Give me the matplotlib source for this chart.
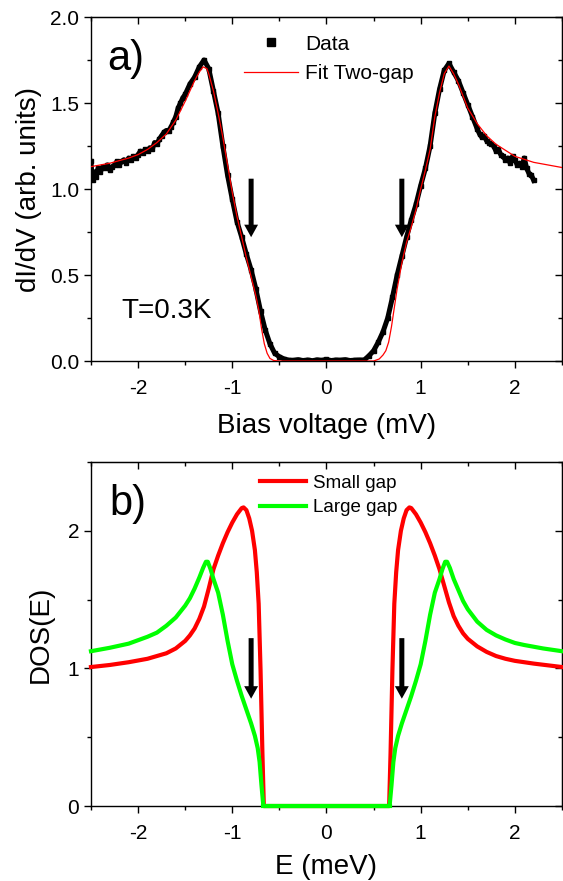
import numpy as np
import matplotlib
matplotlib.use('Agg')
import matplotlib.pyplot as plt
from matplotlib.ticker import MultipleLocator, FormatStrFormatter

plt.rcParams['font.family'] = ['Liberation Sans', 'DejaVu Sans']
plt.rcParams['axes.unicode_minus'] = False

# panel a) measured dI/dV
bias = [-2.500, -2.490, -2.475, -2.460, -2.450, -2.425, -2.400, -2.375, -2.350, -2.325,
        -2.300, -2.275, -2.250, -2.225, -2.200, -2.175, -2.150, -2.125, -2.100, -2.075,
        -2.050, -2.025, -2.000, -1.975, -1.950, -1.925, -1.900, -1.875, -1.850, -1.825,
        -1.800, -1.775, -1.750, -1.725, -1.700, -1.675, -1.650, -1.625, -1.600, -1.575,
        -1.550, -1.525, -1.500, -1.45, -1.40, -1.35, -1.30, -1.25, -1.20, -1.15,
        -1.10, -1.05, -1.00, -0.95, -0.90, -0.85, -0.80, -0.75, -0.70, -0.65,
        -0.60, -0.55, -0.50, -0.45, -0.40, -0.35, -0.30, -0.25, -0.20, -0.15,
        -0.10, -0.05, 0.00, 0.05, 0.10, 0.15, 0.20, 0.25, 0.30, 0.35,
        0.40, 0.45, 0.50, 0.55, 0.60, 0.65, 0.70, 0.75, 0.80, 0.85,
        0.90, 0.95, 1.00, 1.05, 1.10, 1.15, 1.20, 1.25, 1.30, 1.35,
        1.40, 1.45, 1.50, 1.55, 1.600, 1.625, 1.650, 1.675, 1.700, 1.725,
        1.750, 1.775, 1.800, 1.825, 1.850, 1.875, 1.900, 1.925, 1.950, 1.975,
        2.000, 2.025, 2.050, 2.075, 2.100, 2.125, 2.150, 2.175, 2.200]
didv = [1.16, 1.08, 1.05, 1.10, 1.07, 1.12, 1.10, 1.13, 1.12, 1.14,
        1.11, 1.13, 1.14, 1.16, 1.14, 1.16, 1.17, 1.15, 1.18, 1.17,
        1.19, 1.18, 1.20, 1.22, 1.21, 1.23, 1.22, 1.24, 1.23, 1.27,
        1.26, 1.29, 1.31, 1.33, 1.34, 1.34, 1.36, 1.39, 1.42, 1.47,
        1.50, 1.53, 1.55, 1.61, 1.65, 1.71, 1.75, 1.70, 1.57, 1.44,
        1.25, 1.08, 0.94, 0.81, 0.72, 0.62, 0.53, 0.42, 0.29, 0.18,
        0.10, 0.045, 0.025, 0.012, 0.005, 0.004, 0.008, 0.003, 0.006, 0.002,
        0.007, 0.004, 0.009, 0.003, 0.006, 0.005, 0.008, 0.003, 0.005, 0.006,
        0.006, 0.03, 0.06, 0.11, 0.17, 0.25, 0.37, 0.50, 0.61, 0.72,
        0.82, 0.91, 1.02, 1.12, 1.25, 1.44, 1.58, 1.69, 1.73, 1.68,
        1.63, 1.56, 1.49, 1.42, 1.35, 1.32, 1.30, 1.31, 1.28, 1.27,
        1.26, 1.25, 1.22, 1.23, 1.20, 1.19, 1.17, 1.18, 1.15, 1.19,
        1.17, 1.14, 1.15, 1.13, 1.18, 1.12, 1.09, 1.08, 1.05]

# panel a) two-gap fit
fit_v = [-2.5, -2.4, -2.3, -2.2, -2.1, -2.0, -1.9, -1.8, -1.7, -1.6, -1.5, -1.45,
         -1.4, -1.35, -1.31, -1.27, -1.25, -1.2, -1.15, -1.1, -1.05, -1.0, -0.95,
         -0.9, -0.85, -0.8, -0.75, -0.72, -0.69, -0.66, -0.63, -0.6, -0.56, -0.5,
         0.5, 0.56, 0.6, 0.63, 0.66, 0.69, 0.72, 0.75, 0.8, 0.85, 0.9, 0.95,
         1.0, 1.05, 1.1, 1.15, 1.2, 1.25, 1.3, 1.35, 1.4, 1.45, 1.5, 1.6,
         1.7, 1.8, 1.9, 2.0, 2.2, 2.5]
fit_g = [1.13, 1.14, 1.15, 1.165, 1.18, 1.20, 1.23, 1.27, 1.32, 1.40, 1.51, 1.57,
         1.63, 1.68, 1.71, 1.70, 1.67, 1.57, 1.44, 1.30, 1.14, 0.98, 0.84,
         0.72, 0.60, 0.49, 0.38, 0.30, 0.19, 0.10, 0.045, 0.015, 0.003, 0.0,
         0.0, 0.012, 0.035, 0.06, 0.11, 0.20, 0.31, 0.42, 0.57, 0.69, 0.78, 0.88,
         1.00, 1.11, 1.23, 1.42, 1.56, 1.67, 1.715, 1.67, 1.61, 1.54, 1.47, 1.38,
         1.31, 1.26, 1.225, 1.19, 1.155, 1.125]

# panel b) DOS of the two gaps
small_e = [-2.5, -2.3, -2.1, -1.9, -1.7, -1.6, -1.5, -1.45, -1.4, -1.35, -1.3, -1.25,
           -1.2, -1.15, -1.1, -1.05, -1.0, -0.95, -0.9, -0.88, -0.85, -0.82, -0.79,
           -0.76, -0.74, -0.72, -0.70, -0.68, -0.665,
           0.665, 0.68, 0.70, 0.72, 0.74, 0.76, 0.79, 0.82, 0.85, 0.88, 0.9, 0.95,
           1.0, 1.05, 1.1, 1.15, 1.2, 1.25, 1.3, 1.35, 1.4, 1.45, 1.5, 1.6,
           1.7, 1.8, 1.9, 2.0, 2.2, 2.5]
small_dos = [1.01, 1.025, 1.045, 1.07, 1.11, 1.145, 1.20, 1.24, 1.29, 1.36, 1.45, 1.58,
             1.72, 1.82, 1.91, 1.99, 2.06, 2.12, 2.165, 2.17, 2.15, 2.09, 2.0,
             1.86, 1.70, 1.47, 0.99, 0.38, 0.0,
             0.0, 0.38, 0.99, 1.47, 1.70, 1.86, 2.0, 2.09, 2.15, 2.17, 2.165, 2.12,
             2.06, 1.99, 1.91, 1.82, 1.72, 1.60, 1.48, 1.38, 1.31, 1.255, 1.215, 1.16,
             1.12, 1.09, 1.07, 1.055, 1.035, 1.01]
large_e = [-2.5, -2.3, -2.1, -1.9, -1.8, -1.7, -1.6, -1.5, -1.45, -1.4, -1.35, -1.31,
           -1.28, -1.26, -1.23, -1.2, -1.15, -1.1, -1.05, -1.0, -0.95, -0.9, -0.85,
           -0.8, -0.76, -0.73, -0.71, -0.69, -0.67,
           0.67, 0.69, 0.71, 0.73, 0.76, 0.8, 0.85, 0.9, 0.95, 1.0, 1.05, 1.1,
           1.15, 1.2, 1.23, 1.26, 1.28, 1.31, 1.35, 1.4, 1.45, 1.5, 1.6, 1.7,
           1.8, 1.9, 2.0, 2.1, 2.3, 2.5]
large_dos = [1.125, 1.15, 1.18, 1.23, 1.26, 1.31, 1.37, 1.456, 1.51, 1.58, 1.66, 1.73,
             1.775, 1.775, 1.72, 1.65, 1.55, 1.39, 1.20, 1.03, 0.91, 0.80, 0.70,
             0.60, 0.51, 0.42, 0.32, 0.15, 0.0,
             0.0, 0.15, 0.32, 0.42, 0.51, 0.60, 0.70, 0.80, 0.91, 1.03, 1.20, 1.39,
             1.55, 1.65, 1.72, 1.775, 1.775, 1.73, 1.65, 1.57, 1.49, 1.43, 1.34, 1.28,
             1.24, 1.21, 1.185, 1.17, 1.145, 1.125]
zero_e = [-0.67, 0.67]
zero_dos = [0.0, 0.0]

arrow_x = [-0.8, 0.8]

fig = plt.figure(figsize=(5.63, 8.81), dpi=100)
ax1 = fig.add_axes([0.1616, 0.5902, 0.8366, 0.3905])
ax2 = fig.add_axes([0.1616, 0.0851, 0.8366, 0.3905])


def style_axes(ax, ymajor, yminor):
    ax.set_xlim(-2.5, 2.5)
    ax.xaxis.set_major_locator(MultipleLocator(1))
    ax.xaxis.set_minor_locator(MultipleLocator(0.5))
    ax.yaxis.set_major_locator(MultipleLocator(ymajor))
    ax.yaxis.set_minor_locator(MultipleLocator(yminor))
    ax.tick_params(which='both', direction='out', width=1, labelsize=15)
    ax.tick_params(which='major', length=5)
    ax.tick_params(which='minor', length=3)
    ax.tick_params(axis='x', pad=8)
    for sp in ax.spines.values():
        sp.set_linewidth(1)
    top = ax.secondary_xaxis('top')
    top.xaxis.set_major_locator(MultipleLocator(1))
    top.xaxis.set_minor_locator(MultipleLocator(0.5))
    top.tick_params(which='both', direction='in', labeltop=False, width=1)
    top.tick_params(which='major', length=5)
    top.tick_params(which='minor', length=3)
    right = ax.secondary_yaxis('right')
    right.yaxis.set_major_locator(MultipleLocator(ymajor))
    right.yaxis.set_minor_locator(MultipleLocator(yminor))
    right.tick_params(which='both', direction='in', labelright=False, width=1)
    right.tick_params(which='major', length=5)
    right.tick_params(which='minor', length=3)


# ---- panel a
ax1.plot(bias, didv, '-', color='black', lw=3.6, zorder=2)
ax1.plot(bias, didv, 's', color='black', ms=3.5, zorder=2, label='Data')
ax1.plot(fit_v, fit_g, '-', color='red', lw=0.9, zorder=3, label='Fit Two-gap')
ax1.set_ylim(0, 2.0)
style_axes(ax1, 0.5, 0.25)
ax1.yaxis.set_major_formatter(FormatStrFormatter('%.1f'))
ax1.set_xlabel('Bias voltage (mV)', fontsize=20, labelpad=11)
ax1.set_ylabel('dI/dV (arb. units)', fontsize=20, labelpad=6)
ax1.text(0.035, 0.935, 'a)', transform=ax1.transAxes, fontsize=30, va='top')
ax1.text(0.065, 0.125, 'T=0.3K', transform=ax1.transAxes, fontsize=20,
         va='baseline')
ax1.legend(loc='upper left', bbox_to_anchor=(0.302, 0.979), frameon=False,
           fontsize=15, handlelength=2.6, handletextpad=0.35, labelspacing=0.5,
           borderpad=0, numpoints=1, markerscale=1.7)
for x in arrow_x:
    ax1.annotate('', xy=(x, 0.72), xytext=(x, 1.06),
                 arrowprops=dict(width=3.6, headwidth=10, headlength=9,
                                 shrink=0, facecolor='black', edgecolor='none'))

# ---- panel b
ax2.plot(small_e, small_dos, '-', color='#ff0000', lw=3, label='Small gap',
         clip_on=False, zorder=3)
ax2.plot(large_e, large_dos, '-', color='#00ff00', lw=3, label='Large gap',
         clip_on=False, zorder=3)
ax2.plot(zero_e, zero_dos, '-', color='#00ff00', lw=3, clip_on=False, zorder=3)
ax2.set_ylim(0, 2.5)
style_axes(ax2, 1, 0.5)
ax2.set_xlabel('E (meV)', fontsize=20, labelpad=8)
ax2.set_ylabel('DOS(E)', fontsize=20, labelpad=10)
ax2.text(0.04, 0.935, 'b)', transform=ax2.transAxes, fontsize=30, va='top')
ax2.legend(loc='upper left', bbox_to_anchor=(0.34, 0.99), frameon=False,
           fontsize=13.5, handlelength=2.45, handletextpad=0.35,
           labelspacing=0.38, borderpad=0)
for x in arrow_x:
    ax2.annotate('', xy=(x, 0.78), xytext=(x, 1.22),
                 arrowprops=dict(width=3.6, headwidth=10, headlength=9,
                                 shrink=0, facecolor='black', edgecolor='none'))

fig.savefig('out.png', dpi=100)
